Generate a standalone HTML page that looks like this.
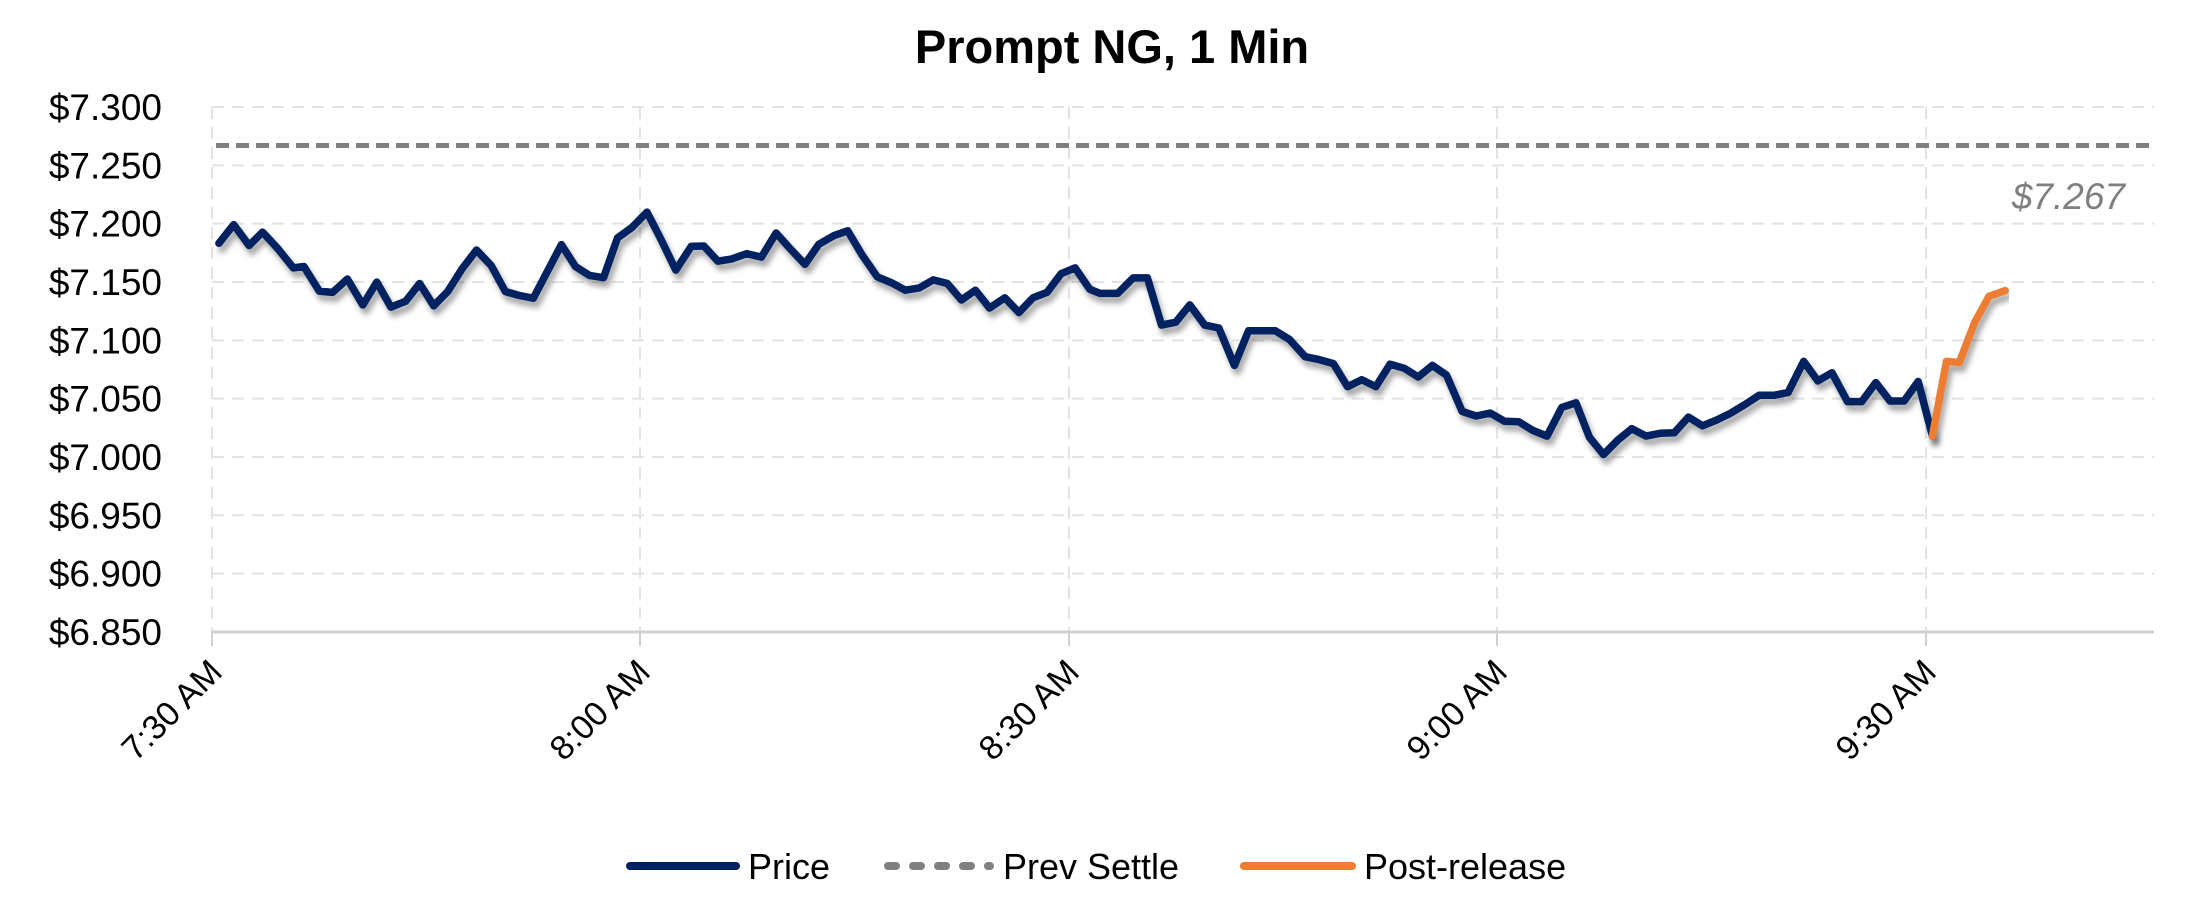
<!DOCTYPE html>
<html><head><meta charset="utf-8"><style>
html,body{margin:0;padding:0;background:#fff;}
svg{display:block;font-family:"Liberation Sans",sans-serif;}
</style></head><body>
<svg id="s" width="2209" height="902" viewBox="0 0 2209 902" xmlns="http://www.w3.org/2000/svg">
<defs><filter id="sh" x="-5%" y="-20%" width="110%" height="140%"><feDropShadow dx="3" dy="6" stdDeviation="3" flood-color="#000" flood-opacity="0.35"/></filter></defs>
<text x="1112" y="63" text-anchor="middle" font-size="47" font-weight="bold">Prompt NG, 1 Min</text>
<g id="grid" stroke="#e3e3e3" stroke-width="2" stroke-dasharray="12 8" fill="none"></g>
<line x1="212" y1="632" x2="2154" y2="632" stroke="#d0d0d0" stroke-width="3"/>
<g id="ticks" stroke="#d0d0d0" stroke-width="2"></g>
<g id="ylab" font-size="37" text-anchor="end" fill="#000"></g>
<g id="xlab" font-size="34" text-anchor="end" fill="#000"></g>
<line x1="216" y1="145.5" x2="2152" y2="145.5" stroke="#808080" stroke-width="5" stroke-dasharray="13 7"/>
<text x="2125" y="209" text-anchor="end" font-size="37" font-style="italic" fill="#808080">$7.267</text>
<polyline id="price" fill="none" stroke="#002060" stroke-width="7.5" stroke-linejoin="round" stroke-linecap="round" filter="url(#sh)"/>
<polyline id="post" fill="none" stroke="#ed7d31" stroke-width="7.5" stroke-linejoin="round" stroke-linecap="round" filter="url(#sh)"/>
<line x1="630" y1="866" x2="736" y2="866" stroke="#002060" stroke-width="8" stroke-linecap="round"/>
<text x="748" y="879" font-size="36">Price</text>
<line x1="888" y1="866" x2="990" y2="866" stroke="#808080" stroke-width="8" stroke-linecap="round" stroke-dasharray="8 17"/>
<text x="1003" y="879" font-size="36">Prev Settle</text>
<line x1="1244" y1="866" x2="1352" y2="866" stroke="#ed7d31" stroke-width="8" stroke-linecap="round"/>
<text x="1364" y="879" font-size="36">Post-release</text>
</svg>
<script>
var NS="http://www.w3.org/2000/svg";
function el(p,t,a,txt){var e=document.createElementNS(NS,t);for(var k in a)e.setAttribute(k,a[k]);if(txt)e.textContent=txt;document.getElementById(p).appendChild(e);}
var labs=["$7.300","$7.250","$7.200","$7.150","$7.100","$7.050","$7.000","$6.950","$6.900","$6.850"];
for(var i=0;i<10;i++){var y=107+i*58.33;
 if(i<9)el("grid","line",{x1:212,y1:y,x2:2154,y2:y});
 el("ylab","text",{x:162,y:y+13},labs[i]);}
var xs=[212,640,1069,1497,1926],xl=["7:30 AM","8:00 AM","8:30 AM","9:00 AM","9:30 AM"];
xs.forEach(function(x,i){el("grid","line",{x1:x,y1:107,x2:x,y2:632});
 el("ticks","line",{x1:x,y1:632,x2:x,y2:646});
 el("xlab","text",{x:x+12,y:674,transform:"rotate(-45 "+(x+12)+" 674)"},xl[i]);});
var z1=[[312,545],[333,503],[355,550],[374,520],[396,557],[418,600],[433,597],[455,652],[474,655],[495,625],[517,683],[537,632],[557,688],[578,675],[598,635],[618,685],[638,653],[658,603],[679,560],[700,595],[720,653],[740,662],[760,668],[800,548],[820,597],[840,617],[860,622],[880,533],[900,510],[922,475],[943,540],[963,605],[985,552],[1003,551],[1023,585],[1043,580],[1064,568],[1085,576],[1106,522],[1126,557],[1147,592],[1167,547],[1188,528],[1208,517],[1228,570],[1250,620],[1270,633],[1290,650],[1310,645],[1330,627],[1350,635],[1370,672],[1390,650],[1410,690],[1432,667],[1452,700],[1472,667],[1492,655],[1512,613],[1532,600],[1553,648]];
var z2=[[0,510],[25,510],[47,483],[67,483],[87,565],[107,560],[127,530],[148,565],[168,570],[190,635],[210,575],[230,575],[248,575],[268,590],[290,620],[310,625],[330,632],[350,672],[370,660],[390,672],[410,633],[430,640],[450,655],[470,635],[490,652],[512,715],[532,723],[552,718],[572,732],[592,733],[612,748],[632,758],[653,708],[673,700],[692,760],[712,790],[732,765],[752,745],[772,758],[792,753],[812,752],[832,725],[852,740],[872,730],[892,718],[912,703],[932,687],[953,687],[973,682],[995,628],[1015,662],[1035,648],[1057,698],[1077,698],[1097,665],[1117,697],[1137,697],[1157,663],[1177,758]];
var z3=[[1177,758],[1197,628],[1215,630],[1237,560],[1257,515],[1280,505]];
var p=z1.map(function(a){return (a[0]/1.425).toFixed(1)+","+(a[1]/2.24).toFixed(1);});
z2.forEach(function(a){p.push((a[0]/1.414+1100).toFixed(1)+","+(a[1]/1.738).toFixed(1));});
document.getElementById("price").setAttribute("points",p.join(" "));
document.getElementById("post").setAttribute("points",z3.map(function(a){return (a[0]/1.414+1100).toFixed(1)+","+(a[1]/1.738).toFixed(1);}).join(" "));
</script>
</body></html>
